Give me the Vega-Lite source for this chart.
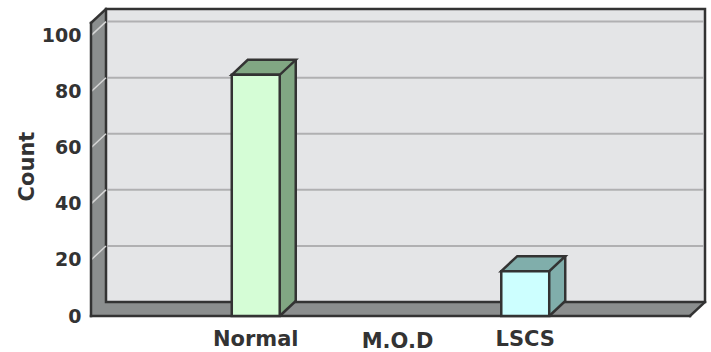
{
  "$schema": "https://vega.github.io/schema/vega-lite/v6.json",
  "width": 599,
  "height": 293,
  "autosize": {"type": "none"},
  "padding": {"left": 91, "top": 23, "right": 21, "bottom": 36},
  "background": "#ffffff",
  "config": {"view": {"stroke": null}, "font": "DejaVu Sans"},
  "data": {"values": [
    {"mod": "Normal", "count": 86},
    {"mod": "LSCS", "count": 16}
  ]},
  "layer": [
    {
      "data": {"values": [{}]},
      "layer": [
        {
          "mark": {"type": "rect", "fill": "#8b8e8e", "x2Offset": 15, "yOffset": -14, "opacity": 1},
          "encoding": {
            "x": {"value": 0}, "x2": {"value": "width"},
            "y": {"datum": 104.5, "title": "Count"}, "y2": {"datum": 0}
          }
        },
        {
          "mark": {"type": "point", "shape": "M0,0 L0,-15 L15,-15 L15,-14 Z", "size": 4, "filled": true, "fill": "#ffffff", "strokeWidth": 0, "opacity": 1},
          "encoding": {"x": {"value": 0}, "y": {"datum": 104.5, "title": "Count"}}
        },
        {
          "mark": {"type": "point", "shape": "M0,1 L16,1 L16,-14 L15,-14 Z", "size": 4, "filled": true, "fill": "#ffffff", "strokeWidth": 0, "opacity": 1},
          "encoding": {"x": {"value": "width"}, "y": {"datum": 0, "title": "Count"}}
        },
        {
          "mark": {"type": "rect", "fill": "#e4e5e7", "stroke": "#333333", "strokeWidth": 2.5, "xOffset": 15, "x2Offset": 15, "yOffset": -14, "y2Offset": -14, "opacity": 1},
          "encoding": {
            "x": {"value": 0}, "x2": {"value": "width"},
            "y": {"datum": 104.5, "title": "Count"}, "y2": {"datum": 0}
          }
        }
      ]
    },
    {
      "data": {"values": [{"tick": 20}, {"tick": 40}, {"tick": 60}, {"tick": 80}, {"tick": 100}]},
      "layer": [
        {
          "mark": {"type": "rule", "color": "#b0b0b2", "strokeWidth": 2, "xOffset": 16, "x2Offset": 14, "yOffset": -14},
          "encoding": {
            "x": {"value": 0}, "x2": {"value": "width"},
            "y": {"field": "tick", "type": "quantitative", "title": "Count"}
          }
        },
        {
          "mark": {"type": "rule", "color": "#d6d6d6", "strokeWidth": 1.5, "x2Offset": 15, "y2Offset": -14},
          "encoding": {
            "x": {"value": 0}, "x2": {"value": 0},
            "y": {"field": "tick", "type": "quantitative", "title": "Count"},
            "y2": {"field": "tick"}
          }
        }
      ]
    },
    {
      "data": {"values": [{}]},
      "layer": [
        {
          "mark": {"type": "rule", "color": "#333333", "strokeWidth": 2.5, "strokeCap": "square"},
          "encoding": {"x": {"value": 0}, "y": {"datum": 0, "title": "Count"}, "y2": {"datum": 104.5}}
        },
        {
          "mark": {"type": "rule", "color": "#333333", "strokeWidth": 2.5, "strokeCap": "square"},
          "encoding": {"x": {"value": 0}, "x2": {"value": "width"}, "y": {"datum": 0, "title": "Count"}}
        },
        {
          "mark": {"type": "rule", "color": "#333333", "strokeWidth": 2.5, "strokeCap": "square", "x2Offset": 15, "y2Offset": -14},
          "encoding": {"x": {"value": 0}, "x2": {"value": 0}, "y": {"datum": 104.5, "title": "Count"}, "y2": {"datum": 104.5}}
        },
        {
          "mark": {"type": "rule", "color": "#333333", "strokeWidth": 2.5, "strokeCap": "square", "x2Offset": 15, "y2Offset": -14},
          "encoding": {"x": {"value": "width"}, "x2": {"value": "width"}, "y": {"datum": 0, "title": "Count"}, "y2": {"datum": 0}}
        }
      ]
    },
    {
      "encoding": {
        "x": {
          "field": "mod", "type": "nominal", "sort": ["Normal", "LSCS"], "title": "M.O.D",
          "scale": {"paddingInner": 0.822, "paddingOuter": 0.5223},
          "axis": {
            "domain": false, "ticks": false, "labelAngle": 0,
            "labelFont": "DejaVu Sans", "labelFontSize": 21, "labelFontWeight": "bold", "labelColor": "#333333", "labelPadding": 12,
            "titleFont": "DejaVu Sans", "titleFontSize": 21, "titleFontWeight": "bold", "titleColor": "#333333",
            "titleX": 306, "titleY": 31, "titleAlign": "center", "titleBaseline": "alphabetic"
          }
        },
        "y": {
          "field": "count", "type": "quantitative", "title": "Count",
          "scale": {"domain": [0, 104.5], "nice": false},
          "axis": {
            "domain": false, "ticks": false, "grid": false, "values": [0, 20, 40, 60, 80, 100],
            "labelFont": "DejaVu Sans", "labelFontSize": 19, "labelFontWeight": "bold", "labelColor": "#333333", "labelPadding": 10,
            "titleFont": "DejaVu Sans", "titleFontSize": 21, "titleFontWeight": "bold", "titleColor": "#333333",
            "titleAngle": -90, "titleX": -58, "titleY": 143, "titleAlign": "center", "titleBaseline": "alphabetic"
          }
        }
      },
      "layer": [
        {
          "mark": {"type": "bar", "xOffset": 16, "yOffset": -15, "y2Offset": -15, "opacity": 1, "strokeWidth": 0},
          "encoding": {
            "fill": {"condition": {"test": "datum.mod === 'Normal'", "value": "#81a783"}, "value": "#80aeab"}
          }
        },
        {
          "mark": {"type": "rule", "color": "#333333", "strokeWidth": 2.5, "xOffset": 16, "yOffset": -15, "y2Offset": -15},
          "encoding": {
            "x": {"field": "mod", "type": "nominal", "sort": ["Normal", "LSCS"], "title": "M.O.D", "bandPosition": 1},
            "y2": {"datum": 0}
          }
        },
        {
          "mark": {"type": "point", "shape": "M0,0 L0,-15 L16,-15 Z", "size": 4, "filled": true, "strokeWidth": 0, "opacity": 1},
          "encoding": {
            "x": {"field": "mod", "type": "nominal", "sort": ["Normal", "LSCS"], "title": "M.O.D", "bandPosition": 1},
            "y": {"datum": 0, "title": "Count"},
            "fill": {"condition": {"test": "datum.mod === 'Normal'", "value": "#81a783"}, "value": "#80aeab"}
          }
        },
        {
          "mark": {"type": "point", "shape": "M0,0 L16,-15", "size": 4, "filled": false, "stroke": "#333333", "strokeWidth": 2.5, "opacity": 1},
          "encoding": {
            "x": {"field": "mod", "type": "nominal", "sort": ["Normal", "LSCS"], "title": "M.O.D", "bandPosition": 1},
            "y": {"datum": 0, "title": "Count"}
          }
        },
        {
          "mark": {"type": "point", "shape": "M0,0 L16,-15 L64,-15 L48,0 Z", "size": 4, "filled": true, "stroke": "#333333", "strokeWidth": 2.5, "opacity": 1},
          "encoding": {
            "x": {"field": "mod", "type": "nominal", "sort": ["Normal", "LSCS"], "title": "M.O.D", "bandPosition": 0},
            "fill": {"condition": {"test": "datum.mod === 'Normal'", "value": "#81a783"}, "value": "#80aeab"}
          }
        },
        {
          "mark": {"type": "bar", "stroke": "#333333", "strokeWidth": 2.5, "opacity": 1},
          "encoding": {
            "fill": {"condition": {"test": "datum.mod === 'Normal'", "value": "#d5fdd6"}, "value": "#cdffff"}
          }
        }
      ]
    }
  ]
}
